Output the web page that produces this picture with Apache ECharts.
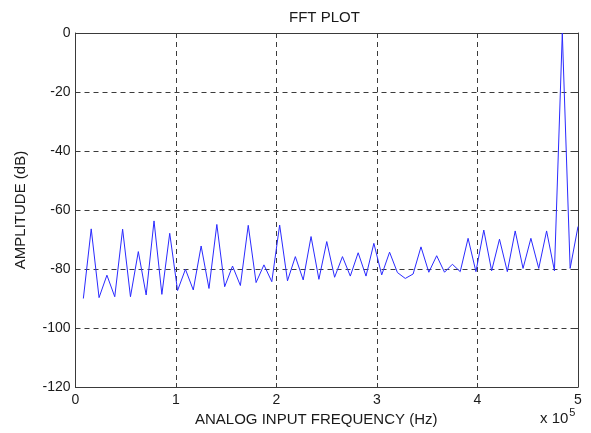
<!DOCTYPE html>
<html>
<head>
<meta charset="utf-8">
<script src="https://cdn.jsdelivr.net/npm/echarts/dist/echarts.min.js"></script>
<style>
html,body{margin:0;padding:0;background:#fff;}
#c{width:591px;height:433px;}
</style>
</head>
<body>
<div id="c"></div>
<script>
// Frequency bins (x 10^5 Hz)
const freq = [
  0.0781, 0.1563, 0.2344, 0.3125, 0.3906, 0.4688, 0.5469, 0.6250,
  0.7031, 0.7813, 0.8594, 0.9375, 1.0156, 1.0938, 1.1719, 1.2500,
  1.3281, 1.4063, 1.4844, 1.5625, 1.6406, 1.7188, 1.7969, 1.8750,
  1.9531, 2.0313, 2.1094, 2.1875, 2.2656, 2.3438, 2.4219, 2.5000,
  2.5781, 2.6563, 2.7344, 2.8125, 2.8906, 2.9688, 3.0469, 3.1250,
  3.2031, 3.2813, 3.3594, 3.4375, 3.5156, 3.5938, 3.6719, 3.7500,
  3.8281, 3.9063, 3.9844, 4.0625, 4.1406, 4.2188, 4.2969, 4.3750,
  4.4531, 4.5313, 4.6094, 4.6875, 4.7656, 4.8438, 4.9219, 5.0000
];
// Amplitude (dB)
const amplitude = [
  -90, -66.4, -89.7, -82.1, -89.4, -66.5, -89.4, -74.1,
  -88.8, -63.7, -88.6, -67.9, -87.3, -80.1, -87.1, -72.2,
  -86.6, -64.9, -86.0, -79.0, -85.6, -65.2, -84.6, -78.6,
  -84.3, -65.1, -84.0, -75.8, -83.7, -69.0, -83.5, -70.7,
  -82.8, -75.8, -82.4, -74.5, -82.4, -71.3, -82.0, -74.3,
  -81.2, -83.2, -81.7, -72.5, -81.1, -75.5, -81.1, -78.4,
  -80.9, -69.6, -80.9, -66.8, -80.6, -69.9, -80.9, -67.1,
  -79.8, -69.6, -79.8, -67.1, -80.6, 0, -79.8, -65.6
];
const xTicks = [0, 1, 2, 3, 4, 5];
const yTicks = [-120, -100, -80, -60, -40, -20, 0];

const titleText = 'FFT PLOT';
const xName = 'ANALOG INPUT FREQUENCY (Hz)';
const yName = 'AMPLITUDE (dB)';

const FONT = 'Liberation Sans, Arial, Helvetica, sans-serif';
const TXT = '#1a1a1a';
const AX = '#3a3a3a';

const chart = echarts.init(document.getElementById('c'), null, {renderer: 'canvas'});

const gridDash = {show: true, lineStyle: {color: '#3c3c3c', type: [5, 4], width: 1}};

chart.setOption({
  animation: false,
  backgroundColor: '#ffffff',
  grid: {left: 75.5, right: 13, top: 33, bottom: 46, show: false},
  graphic: [
    {type: 'text', left: 289, top: 10,
     style: {text: titleText, font: '15px ' + FONT, fill: TXT}},
    {type: 'text', left: 540, top: 407,
     style: {
       text: '{a|x 10}{b|5}',
       rich: {
         a: {font: '15px ' + FONT, fill: TXT, verticalAlign: 'bottom', padding: [0,0,0,0]},
         b: {font: '11px ' + FONT, fill: TXT, verticalAlign: 'top', padding: [0,0,8,1]}
       }
     }}
  ],
  xAxis: [
    {
      type: 'value', min: xTicks[0], max: xTicks[xTicks.length - 1], interval: 1,
      position: 'bottom',
      name: xName, nameLocation: 'middle', nameGap: 22,
      nameTextStyle: {fontFamily: FONT, fontSize: 15, color: TXT, padding: [0, 21, 0, 0]},
      axisLine: {show: true, onZero: false, lineStyle: {color: AX, width: 1}},
      axisTick: {show: true, inside: true, length: 4, lineStyle: {color: AX}},
      axisLabel: {fontFamily: FONT, fontSize: 14, color: TXT, margin: 6},
      splitLine: gridDash
    },
    {
      type: 'value', min: xTicks[0], max: xTicks[xTicks.length - 1], interval: 1,
      position: 'top',
      axisLine: {show: true, onZero: false, lineStyle: {color: AX, width: 1}},
      axisTick: {show: true, inside: true, length: 4, lineStyle: {color: AX}},
      axisLabel: {show: false},
      splitLine: {show: false}
    }
  ],
  yAxis: [
    {
      type: 'value', min: yTicks[0], max: yTicks[yTicks.length - 1], interval: 20,
      position: 'left',
      name: yName, nameLocation: 'middle', nameGap: 47, nameRotate: 90,
      nameTextStyle: {fontFamily: FONT, fontSize: 15, color: TXT},
      axisLine: {show: true, onZero: false, lineStyle: {color: AX, width: 1}},
      axisTick: {show: true, inside: true, length: 4, lineStyle: {color: AX}},
      axisLabel: {fontFamily: FONT, fontSize: 14, color: TXT, margin: 5},
      splitLine: gridDash
    },
    {
      type: 'value', min: yTicks[0], max: yTicks[yTicks.length - 1], interval: 20,
      position: 'right',
      axisLine: {show: true, onZero: false, lineStyle: {color: AX, width: 1}},
      axisTick: {show: true, inside: true, length: 4, lineStyle: {color: AX}},
      axisLabel: {show: false},
      splitLine: {show: false}
    }
  ],
  series: [{
    type: 'line',
    xAxisIndex: 0, yAxisIndex: 0,
    data: freq.map((f, i) => [f, amplitude[i]]),
    showSymbol: false, symbol: 'none',
    lineStyle: {color: '#2a2aff', width: 1},
    clip: true
  }]
});
</script>
</body>
</html>
